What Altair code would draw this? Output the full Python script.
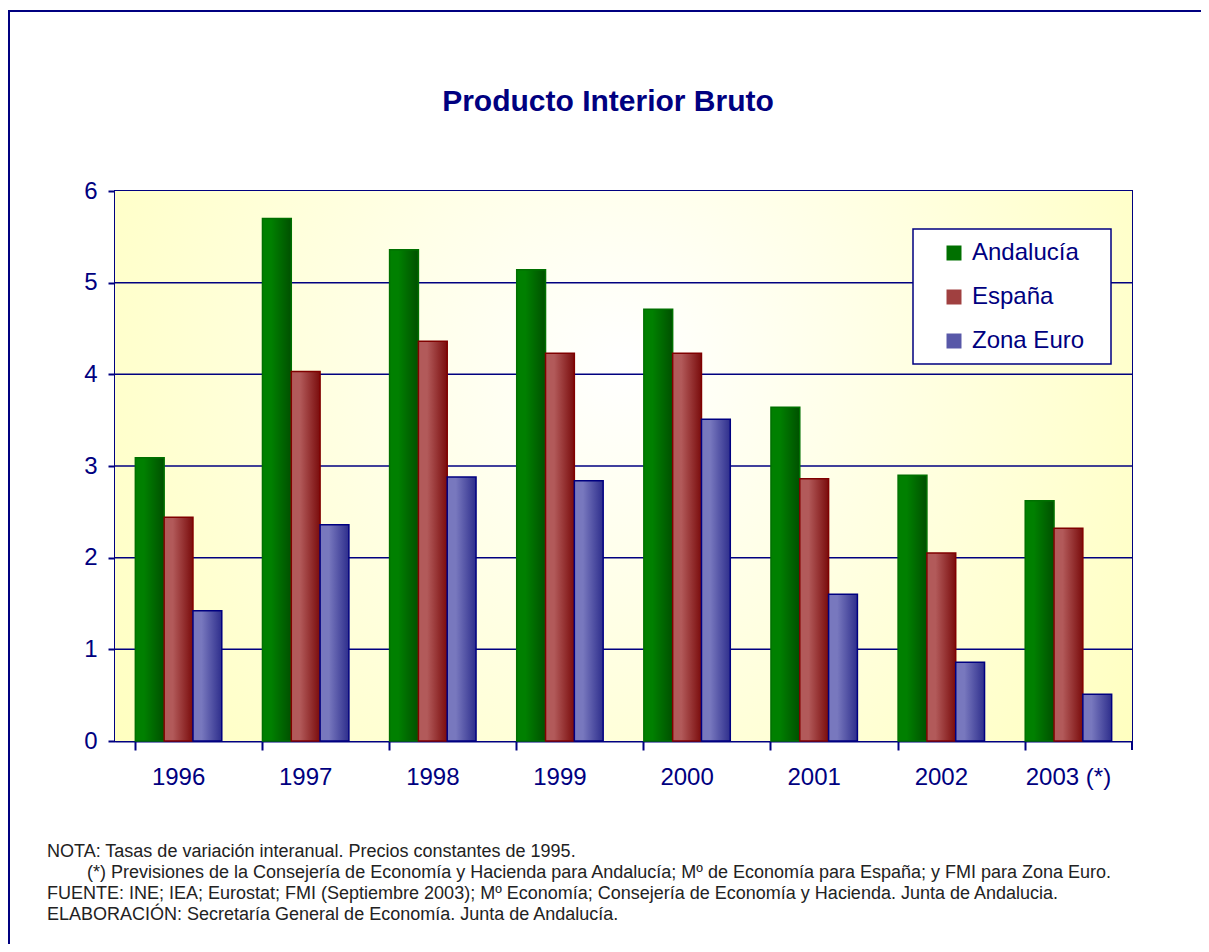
import altair as alt
import pandas as pd

years = ["1996", "1997", "1998", "1999", "2000", "2001", "2002", "2003 (*)"]
series = ["Andalucía", "España", "Zona Euro"]
andalucia = [3.09, 5.70, 5.36, 5.14, 4.71, 3.64, 2.90, 2.62]
espana = [2.44, 4.03, 4.36, 4.23, 4.23, 2.86, 2.05, 2.32]
zona_euro = [1.42, 2.36, 2.88, 2.84, 3.51, 1.60, 0.86, 0.51]
y_ticks = [0, 1, 2, 3, 4, 5, 6]

title_text = "Producto Interior Bruto"
notes = [
    "NOTA: Tasas de variación interanual. Precios constantes de 1995.",
    "(*) Previsiones de la Consejería de Economía y Hacienda para Andalucía; Mº de Economía para España; y FMI para Zona Euro.",
    "FUENTE: INE; IEA; Eurostat; FMI (Septiembre 2003); Mº Economía; Consejería de Economía y Hacienda. Junta de Andalucia.",
    "ELABORACIÓN: Secretaría General de Economía. Junta de Andalucía.",
]
note_indent = [0, 40, 0, 0]

NAVY = "#000080"
FONT = "Liberation Sans"
W, H = 1017, 550

rows = []
for name, vals in zip(series, [andalucia, espana, zona_euro]):
    for y, v in zip(years, vals):
        rows.append({"year": y, "series": name, "value": v})
df = pd.DataFrame(rows)
one = pd.DataFrame({"k": [0]})
grid_df = pd.DataFrame({"value": y_ticks[1:-1]})

fills = {
    "Andalucía": ("#008000", "#005000", "#007000"),
    "España": ("#B25A5A", "#7A0C0C", "#800000"),
    "Zona Euro": ("#7878BE", "#2E2E8C", "#000080"),
}

yscale = alt.Scale(domain=[0, 6], nice=False)
y_axis = alt.Axis(title=None, values=y_ticks,
                  labelFontSize=24, labelColor=NAVY, labelFont=FONT,
                  tickSize=7, tickColor=NAVY, tickWidth=2,
                  domainColor=NAVY, domainWidth=2, labelPadding=11,
                  grid=False)
x_enc = alt.X("year:N", sort=years,
              scale=alt.Scale(paddingInner=0.32, paddingOuter=0.16),
              axis=alt.Axis(title=None, bandPosition=0, labelAngle=0,
                            labelFontSize=24, labelColor=NAVY, labelFont=FONT,
                            tickSize=9, tickColor=NAVY, tickWidth=2,
                            domainColor=NAVY, domainWidth=2, labelPadding=15,
                            grid=False))
xo_enc = alt.XOffset("series:N", sort=series,
                     scale=alt.Scale(domain=series, paddingInner=0, paddingOuter=0))
y_enc = alt.Y("value:Q", scale=yscale, axis=y_axis)

background = alt.Chart(one).mark_rect(
    fill=alt.Gradient(gradient="radial", x1=0.5, y1=0.4, r1=0, x2=0.5, y2=0.4, r2=0.62,
                      stops=[alt.GradientStop(color="#FFFFFF", offset=0),
                             alt.GradientStop(color="#FFFFC0", offset=1)])
).encode(x=alt.value(0), x2=alt.value(W), y=alt.value(0), y2=alt.value(H))

gridlines = alt.Chart(grid_df).mark_rule(color=NAVY, strokeWidth=1.5).encode(
    y=y_enc, x=alt.value(0), x2=alt.value(W))

outer = alt.Chart(one).mark_rect(fill=None, stroke=NAVY, strokeWidth=2).encode(
    x=alt.value(-106), x2=alt.value(1300), y=alt.value(-180), y2=alt.value(1000))

bar_layers = []
for name in series:
    c0, c1, st = fills[name]
    bar_layers.append(
        alt.Chart(df).transform_filter(alt.datum.series == name).mark_bar(
            fill=alt.Gradient(gradient="linear", x1=0, y1=0, x2=1, y2=0,
                              stops=[alt.GradientStop(color=c0, offset=0),
                                     alt.GradientStop(color=c0, offset=0.3),
                                     alt.GradientStop(color=c1, offset=1)]),
            stroke=st, strokeWidth=1.5
        ).encode(x=x_enc, xOffset=xo_enc, y=y_enc)
    )

legend_layer = alt.Chart(df).transform_filter(alt.datum.value < 0).mark_bar().encode(
    x=x_enc, xOffset=xo_enc, y=y_enc,
    color=alt.Color("series:N", sort=series,
                    scale=alt.Scale(domain=series, range=["#007000", "#A04040", "#5858A8"]),
                    legend=alt.Legend(title=None, orient="none", legendX=827, legendY=50,
                                      labelFontSize=24, labelColor=NAVY, labelFont=FONT,
                                      symbolType="square", symbolSize=225,
                                      symbolStrokeWidth=0, rowPadding=20, labelOffset=6,
                                      padding=0, strokeColor="transparent"))
)

legend_box = alt.Chart(one).mark_rect(fill="white", stroke=NAVY, strokeWidth=1.5).encode(
    x=alt.value(798), x2=alt.value(996), y=alt.value(38), y2=alt.value(173))

end_tick = alt.Chart(one).mark_rule(color=NAVY, strokeWidth=2).encode(
    x=alt.value(W), y=alt.value(H), y2=alt.value(H + 9))

title = alt.Chart(one).mark_text(
    text=title_text, font=FONT, fontSize=30, fontWeight="bold", color=NAVY,
    align="center", baseline="middle"
).encode(x=alt.value(493), y=alt.value(-89))

note_layers = []
for i, t in enumerate(notes):
    note_layers.append(alt.Chart(one).mark_text(
        text=t, font=FONT, fontSize=18, color="#222222", align="left", baseline="middle"
    ).encode(x=alt.value(-68 + note_indent[i]), y=alt.value(661 + 21 * i)))

chart = alt.layer(
    outer, background, gridlines, *bar_layers, legend_layer, legend_box, end_tick, title,
    *note_layers
).properties(
    width=W, height=H,
    autosize=alt.AutoSizeParams(type="none"),
    padding={"left": 107, "top": 183, "right": 69, "bottom": 203},
    background="white",
).configure_view(stroke=NAVY, strokeWidth=2)

chart.save("out.html", embed_options={"renderer": "svg", "actions": False})
